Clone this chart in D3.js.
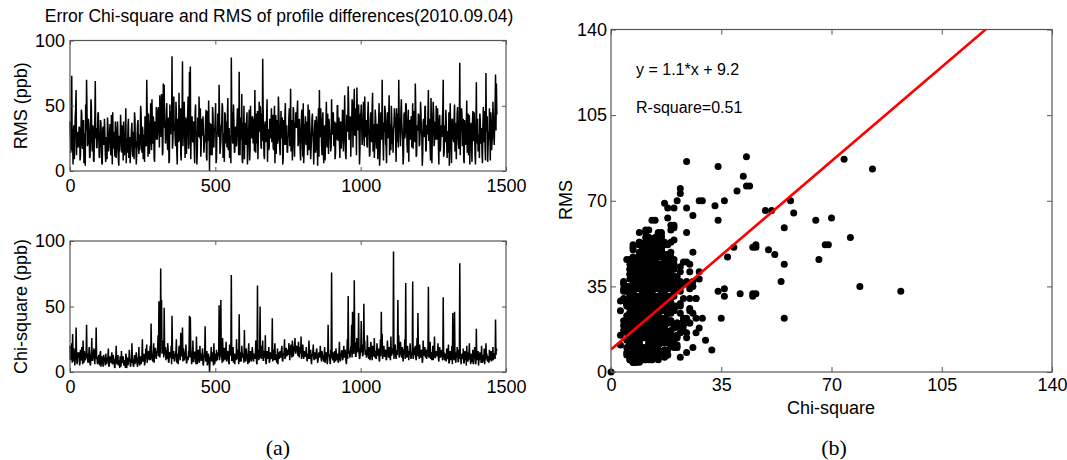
<!DOCTYPE html>
<html>
<head>
<meta charset="utf-8">
<script src="https://cdn.jsdelivr.net/npm/d3@7"></script>
<style>
  body { margin: 0; background: #fff; }
  svg { display: block; font-family: "Liberation Sans", Arial, sans-serif; }
</style>
</head>
<body>
<svg id="chart" width="1067" height="460"></svg>
<script>
const profileStep = 3;
const midOffset = 1.5;

const chiValues = [
  20,12,22,29,8,14,10,34,6,15, 11,5,17,9,13,24,7,12,10,36, 14,8,19,6,12,26,9,15,11,17,
  34,10,7,13,5,16,9,12,4,11, 8,14,6,10,18,5,12,9,15,7, 11,4,9,20,6,13,8,3,10,16,
  7,12,5,9,14,3,11,8,17,6, 10,22,8,4,13,9,15,6,11,19, 5,12,8,25,10,14,7,18,21,11,
  16,9,20,37,12,8,22,14,18,10, 15,28,54,11,79,55,19,24,49,13, 9,17,22,7,14,12,20,43,10,16,
  8,13,25,11,6,19,15,30,12,34, 18,9,14,21,7,11,16,43,42,13, 10,24,8,15,12,27,6,17,11,20,
  14,9,18,5,12,35,10,16,7,13, 0,11,19,8,14,22,6,12,17,9, 15,51,20,55,12,26,8,18,10,23,
  11,16,7,21,13,74,9,19,14,6, 12,25,10,17,44,8,15,20,11,14, 32,9,18,12,6,22,13,16,8,19,
  10,14,13,24,7,66,17,11,50,15, 20,24,9,13,28,6,16,12,19,8, 14,11,41,17,9,22,13,7,18,15,
  10,16,12,20,8,14,25,11,18,13, 17,22,9,18,15,24,12,19,26,14, 20,16,23,11,18,27,13,21,10,15,
  12,19,8,14,24,10,17,6,13,21, 9,15,11,18,7,13,14,20,10,16, 12,8,19,11,14,6,36,13,9,17,
  76,10,15,7,12,18,9,14,11,23, 8,13,16,10,20,12,15,6,25,58, 14,11,19,36,46,15,70,22,12,26,
  18,45,10,16,39,21,13,52,24,17, 11,28,15,19,9,23,14,20,12,26, 16,10,22,13,18,8,25,46,29,15,
  20,12,17,9,24,14,19,11,27,13, 18,92,15,21,10,16,55,28,12,23, 14,19,8,17,25,68,11,20,13,16,
  22,10,15,69,12,18,20,9,26,45, 14,21,11,17,7,24,13,19,16,10, 18,65,12,23,15,9,20,14,27,11,
  16,13,22,8,19,12,17,10,57,15, 9,14,18,11,21,7,16,12,20,45, 13,46,10,15,19,8,17,83,12,14,
  11,18,7,16,13,20,9,15,22,10, 14,8,17,12,19,6,33,13,16,9, 15,11,20,7,13,18,10,22,14,8,
  12,17,9,16,11,19,13,14,40,18
];

const rmsValues = [
  38,14,73,22,31,9,42,62,27,18, 25,33,12,47,20,36,6,29,51,70, 19,40,28,11,55,24,35,8,30,69,
  33,18,44,26,10,39,21,5,34,23, 29,7,24,41,15,28,36,12,22,45, 17,21,38,10,32,26,4,15,43,30,
  35,8,19,27,48,25,14,40,21,6, 24,37,11,30,45,18,5,28,39,13, 16,50,23,34,9,28,42,20,70,31,
  44,13,26,47,55,21,36,7,30,49, 24,41,37,58,35,59,12,67,66,38, 29,52,16,41,8,33,46,88,22,57,
  36,19,44,5,27,60,23,13,48,84, 31,53,10,39,24,45,17,76,80,28, 42,22,34,6,51,30,14,38,57,25,
  11,40,27,33,19,22,47,8,30,54, 0,23,36,12,44,18,31,52,9,28, 40,66,13,22,35,49,25,7,43,30,
  18,56,32,10,27,87,45,21,38,15, 34,20,48,26,76,12,39,59,6,29, 9,37,24,45,17,33,8,50,28,41,
  21,31,62,14,36,46,26,53,50,19, 44,86,27,9,38,22,55,32,16,40, 25,48,32,18,35,6,43,29,21,57,
  30,12,46,27,5,39,20,52,34,15, 26,41,19,63,31,8,49,24,37,45, 33,54,22,40,14,30,47,11,6,36,
  42,20,28,51,16,35,9,24,44,27, 23,39,17,30,4,48,62,26,34,12, 45,6,35,21,53,18,31,40,27,15,
  55,28,44,19,9,37,24,50,32,21, 36,17,29,46,26,58,13,30,41,65, 24,42,11,34,52,38,63,27,48,64,
  31,51,5,44,51,20,36,48,57,26, 39,18,53,28,14,45,22,60,33,10, 47,26,35,9,41,4,30,32,70,23,
  37,50,21,6,45,29,58,34,16,40, 27,33,48,36,7,22,44,70,41,19, 55,30,5,43,25,52,38,14,47,32,
  24,39,18,52,46,28,67,11,35,32, 42,20,53,31,4,37,26,49,15,34, 28,62,40,17,56,6,33,45,22,38,
  50,24,36,5,43,19,29,41,70,13, 35,47,21,30,14,4,52,26,39,31, 22,51,37,9,44,28,17,83,33,48,
  19,40,6,34,25,54,29,12,43,30, 37,7,46,23,31,5,68,39,15,27, 44,21,33,6,49,26,18,75,36,7,
  30,48,8,39,22,53,27,35,74,67
];

const chiValuesMid = [
  9,16,7,13,18,5,11,14,8,12, 15,7,10,19,6,12,16,9,13,11, 7,13,10,5,16,9,12,18,6,10,
  12,6,11,8,14,4,10,7,13,9, 5,10,8,12,4,9,7,11,6,13, 8,3,11,7,10,5,9,12,4,8,
  10,6,8,3,12,7,5,9,11,4, 7,11,5,9,6,12,8,4,10,7, 9,6,13,8,11,5,10,14,7,12,
  11,14,9,16,10,13,7,18,12,15, 18,12,22,16,25,14,20,11,17,19, 13,10,18,8,15,11,6,19,14,9,
  11,16,7,14,10,20,9,13,17,8, 14,10,17,7,12,9,15,11,18,6, 12,8,15,10,6,13,9,16,7,11,
  9,13,6,11,16,8,12,5,14,10, 7,12,9,15,5,11,14,8,10,13, 12,9,16,11,7,14,18,10,13,8,
  15,10,6,13,17,9,12,7,11,14, 9,13,11,6,15,10,8,14,12,7, 11,8,14,10,16,7,12,9,13,15,
  8,12,10,15,6,13,9,17,11,10, 13,9,16,11,8,14,10,12,7,15, 10,14,8,12,16,9,13,11,6,12,
  14,11,17,9,13,15,10,18,12,16, 13,18,15,21,11,17,14,20,16,19, 17,12,15,19,14,10,18,13,16,12,
  15,11,13,10,17,14,9,12,16,11, 13,10,16,12,9,15,11,14,8,13, 10,13,7,15,11,9,14,12,6,11,
  14,9,12,16,8,13,11,7,15,10, 12,16,9,14,11,17,8,13,10,18, 16,13,20,11,17,14,22,12,18,15,
  19,14,11,20,15,12,17,21,13,16, 13,18,10,15,12,19,9,16,14,11, 15,11,17,13,9,16,12,18,10,14,
  12,16,10,14,18,11,15,9,13,17, 14,10,19,12,16,13,20,11,15,18, 11,15,13,17,10,14,12,16,9,13,
  16,12,14,10,18,13,11,15,12,17, 10,14,12,16,9,13,15,11,17,12, 13,11,15,10,14,12,9,16,11,14,
  12,15,10,14,11,13,16,9,12,10, 11,8,13,10,7,12,9,14,6,11, 9,12,7,11,14,8,10,13,6,12,
  10,7,12,9,5,11,8,13,10,6, 8,11,6,10,13,7,9,12,5,10, 11,7,9,12,8,6,10,13,9,11,
  7,10,12,8,11,9,14,10,13,16
];

const rmsValuesMid = [
  27,41,16,5,35,23,48,12,30,19, 34,8,26,44,17,39,22,4,31,46, 21,36,10,28,50,15,33,7,42,25,
  18,29,45,11,24,37,6,32,20,40, 13,26,9,35,19,31,16,43,5,22, 30,11,24,17,38,8,27,20,33,14,
  25,38,12,29,6,21,34,10,26,17, 32,15,27,9,40,23,13,36,18,28, 22,44,14,31,25,7,37,19,46,11,
  35,20,52,16,29,42,10,38,24,47, 30,49,18,43,26,54,14,40,33,21, 46,24,38,6,51,28,35,17,43,31,
  27,53,15,40,22,34,48,8,39,19, 50,29,41,13,36,57,21,44,9,33, 24,38,17,45,29,5,41,26,35,48,
  20,34,42,14,27,39,11,46,23,31, 37,12,28,49,19,33,40,6,30,44, 26,41,18,35,52,10,29,45,21,38,
  43,16,33,27,6,40,22,51,14,31, 19,36,45,12,28,41,24,8,37,50, 32,20,39,5,30,47,16,34,25,42,
  40,15,28,44,21,9,36,30,48,17, 23,47,12,35,26,41,7,31,19,38, 36,22,43,16,50,28,13,39,24,45,
  18,33,25,41,10,29,44,20,35,14, 27,48,30,15,39,22,46,11,33,41, 45,19,36,28,8,43,24,52,16,30,
  21,38,12,34,47,26,17,40,29,5, 33,14,42,23,37,11,30,48,20,39, 16,27,8,36,22,44,13,34,26,19,
  29,45,20,38,14,31,50,23,41,10, 38,22,47,15,33,26,9,43,30,52, 25,40,31,55,18,46,28,37,12,44,
  47,30,16,42,35,24,53,19,38,29, 20,44,33,11,40,27,49,15,36,23, 41,17,36,28,52,13,45,24,31,8,
  30,47,19,39,25,43,12,36,50,21, 14,35,42,23,48,30,18,40,27,46, 37,24,11,45,29,51,20,33,7,39,
  26,42,34,17,38,22,47,12,31,44, 19,31,45,26,13,40,28,50,16,35, 44,23,36,8,41,27,53,19,32,24,
  33,48,20,39,15,35,26,46,11,29, 22,37,10,30,45,18,34,6,40,25, 41,15,33,27,49,21,38,12,30,43,
  28,9,39,20,35,14,44,26,5,32, 17,36,24,45,12,31,21,40,28,10, 39,26,13,34,22,46,8,30,42,19,
  24,33,45,16,28,38,20,50,31,43
];

const timeTicks = [0, 500, 1000, 1500];
const valueTicks = [0, 50, 100];
const scatterTicks = [0, 35, 70, 105, 140];

const fitSlope = 1.1;
const fitIntercept = 9.2;

const title = 'Error Chi-square and RMS of profile differences(2010.09.04)';

// interleave both sampled sets in profile order
const samples = chiValues.flatMap((c, i) => [
  { profile: i * profileStep, chi: c, rms: rmsValues[i] },
  { profile: i * profileStep + midOffset, chi: chiValuesMid[i], rms: rmsValuesMid[i] }
]);

const svg = d3.select('#chart');
const frameColor = '#555';

// inward MATLAB style box: ticks on all four sides, labels only bottom/left
function drawBox(g, x, y, xTicks, yTicks, tickLen, padX, padY) {
  const [x0, x1] = x.range();
  const [y0, y1] = y.range();

  const bottom = g.append('g')
    .attr('transform', `translate(0,${y0})`)
    .call(d3.axisBottom(x).tickValues(xTicks).tickFormat(d3.format('d'))
      .tickSizeInner(-tickLen).tickSizeOuter(0).tickPadding(padX));
  const top = g.append('g')
    .attr('transform', `translate(0,${y1})`)
    .call(d3.axisTop(x).tickValues(xTicks).tickFormat('')
      .tickSizeInner(-tickLen).tickSizeOuter(0));
  const left = g.append('g')
    .attr('transform', `translate(${x0},0)`)
    .call(d3.axisLeft(y).tickValues(yTicks).tickFormat(d3.format('d'))
      .tickSizeInner(-tickLen).tickSizeOuter(0).tickPadding(padY));
  const right = g.append('g')
    .attr('transform', `translate(${x1},0)`)
    .call(d3.axisRight(y).tickValues(yTicks).tickFormat('')
      .tickSizeInner(-tickLen).tickSizeOuter(0));

  [bottom, top, left, right].forEach(a => {
    a.select('.domain').remove();
    a.selectAll('line').attr('stroke', frameColor);
    a.selectAll('text')
      .attr('fill', '#000')
      .style('font-size', '18px')
      .style('font-family', '"Liberation Sans", Arial, sans-serif');
  });

  g.append('rect')
    .attr('x', x0).attr('y', y1)
    .attr('width', x1 - x0).attr('height', y0 - y1)
    .attr('fill', 'none')
    .attr('stroke', frameColor)
    .attr('stroke-width', 1.2);
}

function drawSeries(key, yTop, yBottom, label) {
  const x = d3.scaleLinear().domain([0, 1500]).range([70, 506]);
  const y = d3.scaleLinear().domain([0, 100]).range([yBottom, yTop]);
  const g = svg.append('g');

  const line = d3.line()
    .x(d => x(d.profile))
    .y(d => y(d[key]));

  g.append('path')
    .datum(samples)
    .attr('d', line)
    .attr('fill', 'none')
    .attr('stroke', '#000')
    .attr('stroke-width', 1.5);

  drawBox(g, x, y, timeTicks, valueTicks, 4, 8, 5);

  g.append('text')
    .attr('transform', `translate(27,${(yTop + yBottom) / 2}) rotate(-90)`)
    .attr('text-anchor', 'middle')
    .style('font-size', '18px')
    .text(label);
}

svg.append('text')
  .attr('x', 279)
  .attr('y', 22)
  .attr('text-anchor', 'middle')
  .style('font-size', '17.5px')
  .text(title);

drawSeries('rms', 40.5, 171, 'RMS (ppb)');
drawSeries('chi', 241, 372, 'Chi-square (ppb)');

// scatter of RMS against Chi-square
const sx = d3.scaleLinear().domain([0, 140]).range([611, 1052]);
const sy = d3.scaleLinear().domain([0, 140]).range([372, 29.5]);
const sg = svg.append('g');

sg.append('clipPath').attr('id', 'plotClip')
  .append('rect')
  .attr('x', 611).attr('y', 29.5)
  .attr('width', 1052 - 611).attr('height', 372 - 29.5);

sg.selectAll('circle')
  .data(samples)
  .join('circle')
  .attr('cx', d => sx(d.chi))
  .attr('cy', d => sy(d.rms))
  .attr('r', 3.5)
  .attr('fill', '#000');

const fitLine = d3.line()
  .x(d => sx(d))
  .y(d => sy(fitSlope * d + fitIntercept));

sg.append('path')
  .datum([0, 140])
  .attr('d', fitLine)
  .attr('clip-path', 'url(#plotClip)')
  .attr('fill', 'none')
  .attr('stroke', '#f00')
  .attr('stroke-width', 2.6);

drawBox(sg, sx, sy, scatterTicks, scatterTicks, 5, 6, 4);

sg.append('text')
  .attr('x', 636).attr('y', 75)
  .style('font-size', '16px')
  .text(`y = ${fitSlope}*x + ${fitIntercept}`);

sg.append('text')
  .attr('x', 636).attr('y', 113)
  .style('font-size', '16px')
  .text('R-square=0.51');

sg.append('text')
  .attr('x', 831).attr('y', 414)
  .attr('text-anchor', 'middle')
  .style('font-size', '18px')
  .text('Chi-square');

sg.append('text')
  .attr('transform', `translate(572,200) rotate(-90)`)
  .attr('text-anchor', 'middle')
  .style('font-size', '18px')
  .text('RMS');

// panel captions
svg.append('text')
  .attr('x', 278).attr('y', 455)
  .attr('text-anchor', 'middle')
  .style('font-family', '"Liberation Serif", "Times New Roman", serif')
  .style('font-size', '22px')
  .text('(a)');

svg.append('text')
  .attr('x', 834).attr('y', 455)
  .attr('text-anchor', 'middle')
  .style('font-family', '"Liberation Serif", "Times New Roman", serif')
  .style('font-size', '22px')
  .text('(b)');
</script>
</body>
</html>
